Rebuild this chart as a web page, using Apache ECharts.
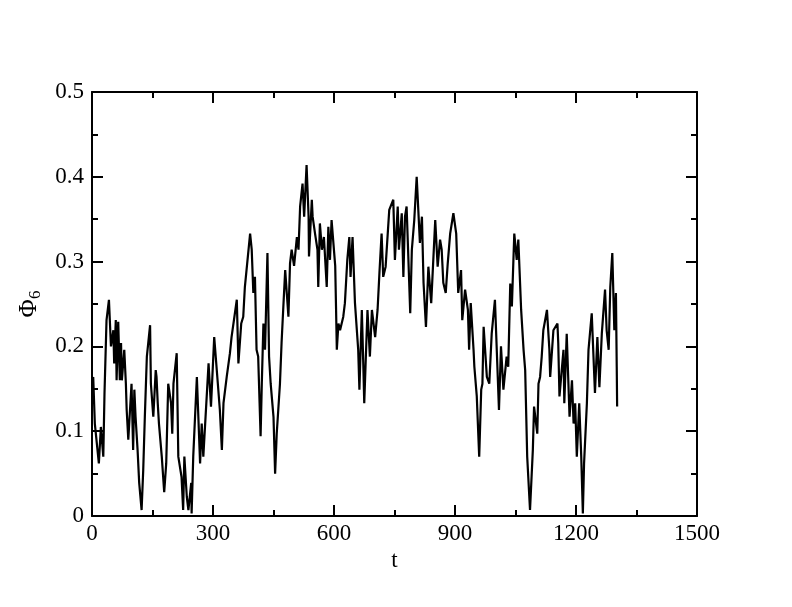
<!DOCTYPE html>
<html>
<head>
<meta charset="utf-8">
<script src="https://cdn.jsdelivr.net/npm/echarts@6/dist/echarts.min.js"></script>
<style>
html,body{margin:0;padding:0;background:#fff;}
#chart{width:792px;height:607px;}
</style>
</head>
<body>
<div id="chart"></div>
<script>
const tValues = [0,3,7,17,22,28,31,36,42,47,53,55,59,61,65,69,72,74,80,84,86,90,98,102,105,108,113,117,123,127,131,136,144,146,152,158,160,163,166,173,179,184,189,196,199,202,210,214,222,226,229,235,239,246,247,251,260,268,272,276,289,295,303,312,317,322,326,334,342,346,359,363,370,375,379,392,396,400,404,408,412,418,421,425,429,435,439,443,450,454,458,466,470,474,479,487,491,495,501,508,512,516,522,526,532,537,538,545,547,553,559,561,565,570,575,582,586,590,594,603,605,607,611,615,623,627,633,638,641,646,652,660,663,669,673,675,683,689,694,702,708,713,718,722,728,737,739,747,751,758,761,768,772,776,780,789,793,799,805,809,813,818,822,828,834,841,851,857,863,867,871,877,882,888,896,903,908,915,918,925,932,935,939,946,948,954,960,965,968,971,979,985,991,999,1009,1014,1020,1028,1032,1037,1041,1047,1053,1057,1064,1070,1074,1079,1086,1093,1096,1104,1107,1111,1115,1119,1128,1134,1136,1144,1154,1156,1159,1169,1171,1177,1184,1190,1194,1198,1202,1208,1213,1217,1220,1227,1231,1239,1247,1253,1258,1264,1272,1276,1281,1285,1290,1295,1299,1301,1302];
const phiValues = [0.156,0.164,0.109,0.062,0.105,0.070,0.145,0.231,0.255,0.200,0.219,0.180,0.231,0.160,0.229,0.160,0.204,0.160,0.196,0.156,0.125,0.090,0.156,0.078,0.149,0.117,0.078,0.039,0.007,0.054,0.117,0.188,0.225,0.156,0.117,0.172,0.164,0.133,0.109,0.070,0.028,0.062,0.156,0.133,0.097,0.156,0.192,0.070,0.046,0.007,0.070,0.023,0.007,0.039,0.003,0.070,0.164,0.062,0.109,0.070,0.180,0.129,0.211,0.156,0.125,0.078,0.133,0.164,0.192,0.211,0.255,0.180,0.227,0.235,0.270,0.333,0.314,0.263,0.282,0.196,0.188,0.094,0.156,0.227,0.196,0.310,0.188,0.156,0.117,0.050,0.097,0.156,0.204,0.243,0.290,0.235,0.298,0.314,0.295,0.329,0.314,0.365,0.392,0.353,0.414,0.353,0.306,0.373,0.353,0.333,0.314,0.270,0.345,0.314,0.329,0.270,0.341,0.302,0.349,0.295,0.247,0.196,0.227,0.219,0.235,0.251,0.302,0.329,0.282,0.329,0.251,0.196,0.149,0.243,0.172,0.133,0.243,0.188,0.243,0.211,0.243,0.290,0.333,0.282,0.294,0.361,0.361,0.373,0.302,0.365,0.314,0.357,0.282,0.353,0.365,0.239,0.314,0.349,0.400,0.361,0.322,0.353,0.275,0.223,0.294,0.251,0.349,0.294,0.326,0.314,0.275,0.263,0.298,0.333,0.357,0.333,0.263,0.290,0.231,0.267,0.243,0.196,0.251,0.196,0.176,0.141,0.070,0.149,0.156,0.223,0.164,0.156,0.215,0.255,0.125,0.200,0.149,0.188,0.176,0.274,0.247,0.333,0.302,0.326,0.243,0.196,0.172,0.070,0.007,0.078,0.129,0.097,0.156,0.164,0.188,0.219,0.243,0.196,0.164,0.219,0.227,0.204,0.141,0.196,0.133,0.215,0.117,0.160,0.109,0.133,0.070,0.133,0.070,0.003,0.062,0.133,0.196,0.239,0.145,0.211,0.152,0.215,0.267,0.219,0.196,0.270,0.310,0.219,0.263,0.176,0.129];

const xTickLabels = ['0','300','600','900','1200','1500'];
const yTickLabels = ['0','0.1','0.2','0.3','0.4','0.5'];

const seriesData = tValues.map((t, i) => [t, phiValues[i]]);

const font = 'Liberation Serif';
const axisLineStyle = {color:'#000', width:2};

function xAxisBase(primary){
  return {
    type:'value', min:0, max:1500, interval:300,
    position: primary ? 'bottom' : 'top',
    axisLine:{show:true, onZero:false, lineStyle:axisLineStyle},
    axisTick:{show:true, inside:true, length:11, lineStyle:{color:'#000', width:2}},
    minorTick:{show:true, splitNumber:2, length:6, lineStyle:{color:'#000', width:2}},
    axisLabel:{show:primary, color:'#000', fontFamily:font, fontSize:23, margin:6,
      formatter:(v)=>xTickLabels[Math.round(v/300)]},
    splitLine:{show:false}, minorSplitLine:{show:false},
    name: primary ? 't' : '', nameLocation:'middle', nameGap:31,
    nameTextStyle:{color:'#000', fontFamily:font, fontSize:23}
  };
}
function yAxisBase(primary){
  return {
    type:'value', min:0, max:0.5, interval:0.1,
    position: primary ? 'left' : 'right',
    axisLine:{show:true, onZero:false, lineStyle:axisLineStyle},
    axisTick:{show:true, inside:true, length:11, lineStyle:{color:'#000', width:2}},
    minorTick:{show:true, splitNumber:2, length:6, lineStyle:{color:'#000', width:2}},
    axisLabel:{show:primary, color:'#000', fontFamily:font, fontSize:23, margin:8,
      formatter:(v)=>yTickLabels[Math.round(v*10)]},
    splitLine:{show:false}, minorSplitLine:{show:false},
    name: primary ? '{a|Φ}{b|6}' : '', nameLocation:'middle', nameGap:47, nameRotate:90,
    nameTextStyle:{color:'#000', fontFamily:font, fontSize:25,
      rich:{a:{fontFamily:font, fontSize:25, color:'#000'}, b:{fontFamily:font, fontSize:17, color:'#000', verticalAlign:'bottom', padding:[12,0,0,0]}}}
  };
}

const chart = echarts.init(document.getElementById('chart'), null, {renderer:'canvas'});
chart.setOption({
  animation:false,
  backgroundColor:'#fff',
  grid:{left:92, right:95, top:92, bottom:91, containLabel:false},
  xAxis:[xAxisBase(true), xAxisBase(false)],
  yAxis:[yAxisBase(true), yAxisBase(false)],
  series:[{
    type:'line', xAxisIndex:0, yAxisIndex:0,
    data:seriesData, showSymbol:false, symbol:'none',
    lineStyle:{color:'#000', width:2.2}, smooth:false
  }]
});
</script>
</body>
</html>
